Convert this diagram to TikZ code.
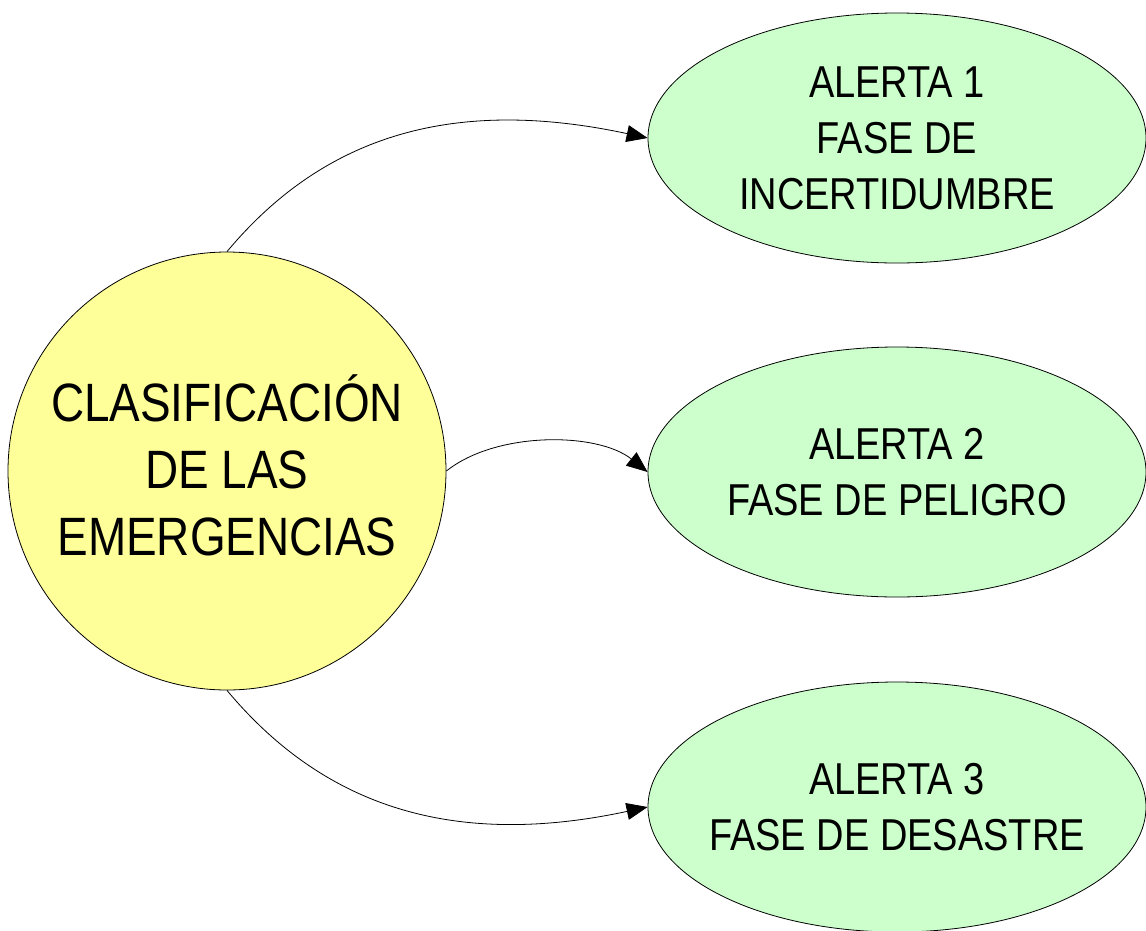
\documentclass[tikz,border=0pt]{standalone}
\usepackage{fontspec}
\newfontfamily\labfont[FakeStretch=0.85]{Liberation Sans}
\usetikzlibrary{arrows.meta,shapes.geometric}
\definecolor{circlefill}{HTML}{FFFF99}
\definecolor{ellfill}{HTML}{CCFFCC}
\tikzset{
  mainbox/.style={circle,draw=black,line width=0.8pt,fill=circlefill,minimum size=438pt,inner sep=0pt},
  maintext/.style={inner sep=0pt,align=center,font=\labfont\fontsize{54}{67}\selectfont},
  phasebox/.style={ellipse,draw=black,line width=0.8pt,fill=ellfill,minimum width=498pt,minimum height=250pt,
    inner xsep=-40pt,inner ysep=0pt,align=center,
    font=\labfont\fontsize{44.7}{56}\selectfont},
  link/.style={line width=0.8pt,-{Triangle[length=21pt,width=17pt]}}
}
\begin{document}
\begin{tikzpicture}[x=1pt,y=-1pt]
\useasboundingbox[fill=white] (0,0) rectangle (1146,930);
\node[mainbox] (c) at (227,471) {};
\node[maintext] (ct) at ([yshift=6pt]c.center) {CLASIFICACIÓN\\DE LAS\\EMERGENCIAS};
\node[phasebox] (e1) at (897,138) {ALERTA 1\\FASE DE\\INCERTIDUMBRE};
\node[phasebox] (e2) at (897,472) {ALERTA 2\\FASE DE PELIGRO};
\node[phasebox] (e3) at (897,807) {ALERTA 3\\FASE DE DESASTRE};
\draw[link] (c.north) .. controls +(96,-115) and +(-196,-42) .. (e1.west);
\draw[link] (c.east) .. controls +(50,-40) and +(-50,-40) .. (e2.west);
\draw[link] (c.south) .. controls +(96,115) and +(-196,42) .. (e3.west);
\end{tikzpicture}
\end{document}
